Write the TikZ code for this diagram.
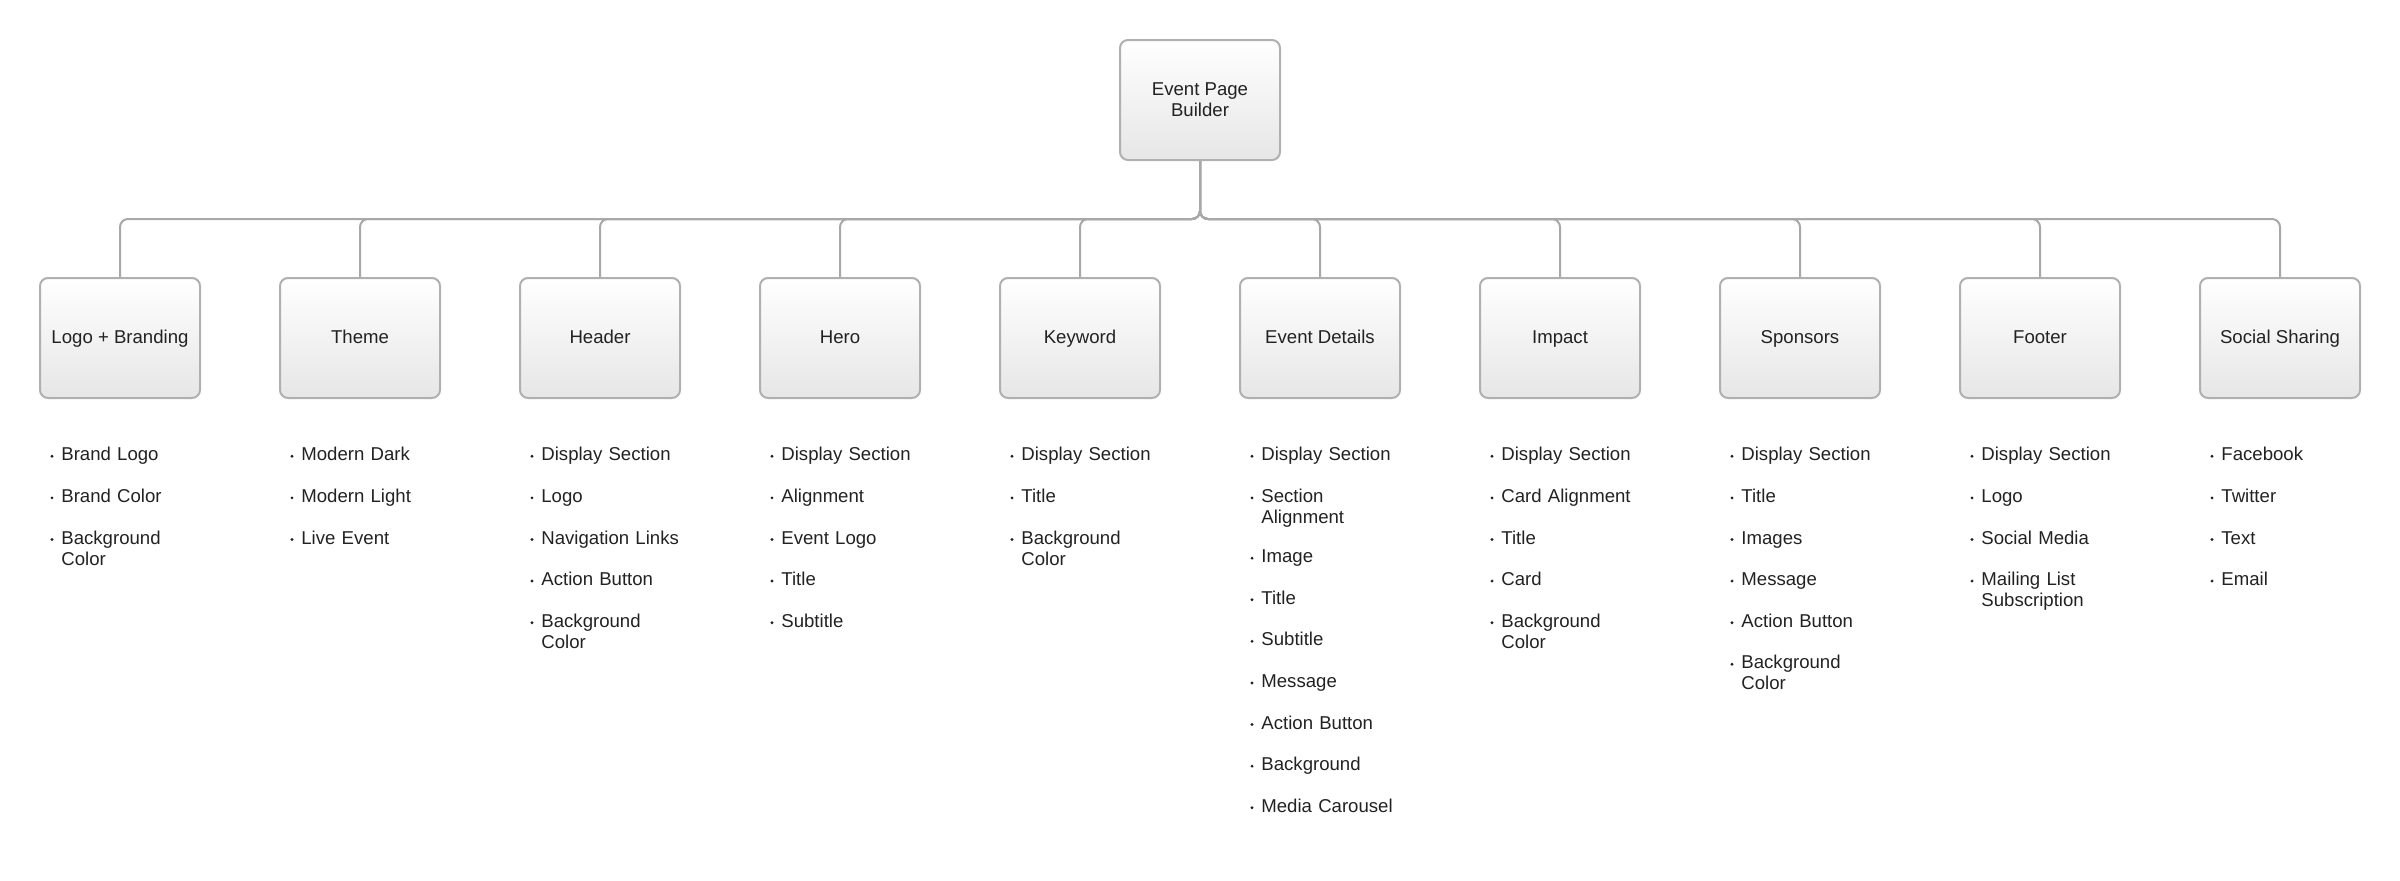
\documentclass[tikz,border=0pt]{standalone}
\usepackage{fontspec}
\setmainfont{Liberation Sans}
\usetikzlibrary{positioning}
\definecolor{bd}{HTML}{B0B0B0}
\definecolor{ln}{HTML}{A8A8A8}
\definecolor{tx}{HTML}{222222}
\definecolor{bt}{HTML}{E6E6E6}
\newcommand\myit[1]{\makebox[5.5pt][l]{\raisebox{1.5pt}{\tikz\fill[tx] (0,0) circle (0.8pt);}}\parbox[t]{100pt}{\raggedright #1}\par\vspace{10.3pt}}
\tikzset{
 box/.style={draw=bd, line width=1pt, rounded corners=4pt, top color=white, bottom color=bt,
   minimum width=80pt, minimum height=60pt, text=tx, font=\fontsize{9.3}{10.5}\selectfont, align=center, inner sep=1pt},
 lbl/.style={text height=7pt, text depth=2pt},
 lst/.style={anchor=north west, text width=110pt, inner sep=0pt, text=tx, font=\fontsize{9.3}{10.5}\selectfont},
 conn/.style={draw=ln, line width=1pt, rounded corners=4pt}
}
\newcommand\mylist{}
\renewcommand\mylist[2]{\node[lst] (l#1) at ([xshift=5.5pt,yshift=-24pt]#1.south west) {#2};}
\begin{document}
\begin{tikzpicture}[x=0.5pt,y=-0.5pt]
\useasboundingbox (0,0) rectangle (2400,880);
\node[box] (root) at (1200,100) {Event Page\\Builder};
\foreach \n/\t [count=\i from 0] in {a/Logo + Branding,b/Theme,c/Header,d/Hero,e/Keyword,f/Event Details,g/Impact,h/Sponsors,i/Footer,j/Social Sharing}{
  \node[box,lbl] (\n) at (120+240*\i,338) {\t};
  \draw[conn] (root.south) -- (1200,219) -| (\n.north);
}
\mylist{a}{\myit{Brand Logo}\myit{Brand Color}\myit{Background\\Color}}
\mylist{b}{\myit{Modern Dark}\myit{Modern Light}\myit{Live Event}}
\mylist{c}{\myit{Display Section}\myit{Logo}\myit{Navigation Links}\myit{Action Button}\myit{Background\\Color}}
\mylist{d}{\myit{Display Section}\myit{Alignment}\myit{Event Logo}\myit{Title}\myit{Subtitle}}
\mylist{e}{\myit{Display Section}\myit{Title}\myit{Background\\Color}}
\mylist{f}{\myit{Display Section}\myit{Section\\Alignment}\myit{Image}\myit{Title}\myit{Subtitle}\myit{Message}\myit{Action Button}\myit{Background}\myit{Media Carousel}}
\mylist{g}{\myit{Display Section}\myit{Card Alignment}\myit{Title}\myit{Card}\myit{Background\\Color}}
\mylist{h}{\myit{Display Section}\myit{Title}\myit{Images}\myit{Message}\myit{Action Button}\myit{Background\\Color}}
\mylist{i}{\myit{Display Section}\myit{Logo}\myit{Social Media}\myit{Mailing List\\Subscription}}
\mylist{j}{\myit{Facebook}\myit{Twitter}\myit{Text}\myit{Email}}
\end{tikzpicture}
\end{document}
